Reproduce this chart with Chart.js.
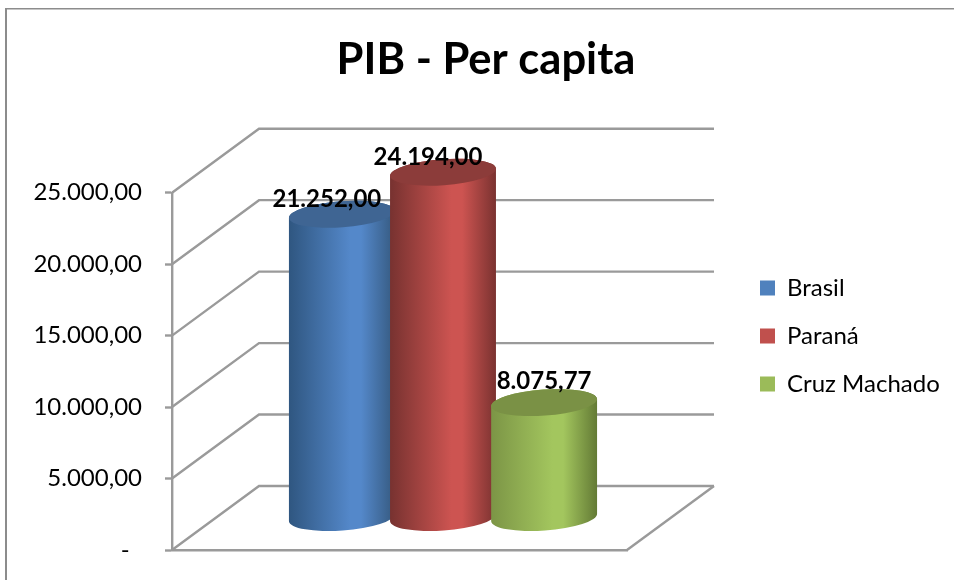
<!DOCTYPE html>
<html>
<head>
<meta charset="utf-8">
<style>
  html, body { margin: 0; padding: 0; background: #fff; overflow: hidden; }
</style>
<script src="https://cdn.jsdelivr.net/npm/chart.js@4/dist/chart.umd.js"></script>
</head>
<body>
<canvas id="pib_chart" width="954" height="580"></canvas>
<script>
const CATEGORIES = ['PIB - Per capita'];
const SERIES_NAMES = ['Brasil', 'Paraná', 'Cruz Machado'];
const SERIES_VALUES = [21252.00, 24194.00, 8075.77];
const Y_TICKS = [0, 5000, 10000, 15000, 20000, 25000];

// mid, edge and lid colours per cylinder
const BODY_COLORS = ['#5488CA', '#CD5451', '#A3C65E'];
const EDGE_LEFT = ['#2F5680', '#773230', '#7C9546'];
const EDGE_RIGHT = ['#35597F', '#7A3230', '#637A35'];
const LID_COLORS = ['#3F6593', '#8C3C3A', '#7A9145'];
const LEGEND_COLORS = ['#4F81BD', '#C0504D', '#9BBB59'];

const GRID_COLOR = '#9A9A9A';
const FONT = 'Lato, sans-serif';

// depth of the 3d box
const DEPTH_X = 87;
const DEPTH_Y = -64;
const TILT = -0.07;
const LID_RY = 13;

function fmt(v) {
    return v.toLocaleString('pt-BR', { minimumFractionDigits: 2, maximumFractionDigits: 2 });
}

function drawWalls(chart) {
    const { ctx, chartArea: area, scales: { y } } = chart;
    ctx.save();
    ctx.strokeStyle = GRID_COLOR;
    ctx.lineWidth = 2.4;
    Y_TICKS.forEach(t => {
        const py = y.getPixelForValue(t);
        ctx.beginPath();
        ctx.moveTo(area.left, py);
        ctx.lineTo(area.left + DEPTH_X, py + DEPTH_Y);
        ctx.lineTo(area.right + DEPTH_X, py + DEPTH_Y);
        ctx.stroke();
    });
    ctx.beginPath();
    ctx.moveTo(area.right, area.bottom);
    ctx.lineTo(area.right + DEPTH_X, area.bottom + DEPTH_Y);
    ctx.stroke();
    ctx.restore();
}

function drawCylinder(ctx, bar, i) {
    const cx = bar.x + DEPTH_X / 2;
    const top = bar.y + DEPTH_Y / 2;
    const base = bar.base + DEPTH_Y / 2;
    const rx = bar.width / 2 * 1.05;

    const grad = ctx.createLinearGradient(cx - rx, 0, cx + rx, 0);
    grad.addColorStop(0, EDGE_LEFT[i]);
    grad.addColorStop(0.58, BODY_COLORS[i]);
    grad.addColorStop(0.68, BODY_COLORS[i]);
    grad.addColorStop(1, EDGE_RIGHT[i]);

    ctx.beginPath();
    ctx.ellipse(cx, base, rx, LID_RY, TILT, 0, Math.PI);
    ctx.ellipse(cx, top, rx, LID_RY, TILT, Math.PI, Math.PI * 2);
    ctx.closePath();
    ctx.fillStyle = grad;
    ctx.fill();

    ctx.beginPath();
    ctx.ellipse(cx, top, rx, LID_RY, TILT, 0, Math.PI * 2);
    ctx.fillStyle = LID_COLORS[i];
    ctx.fill();
}

const box3d = {
    id: 'box3d',
    beforeDraw(chart) {
        const { ctx } = chart;
        ctx.save();
        ctx.fillStyle = '#8C8C8C';
        ctx.fillRect(5, 8, 2, 572);
        ctx.fillRect(5, 8, 949, 1.5);
        ctx.restore();
    },
    afterLayout(chart) {
        // title centres on the whole frame, legend sits right of the back wall
        chart.titleBlock.left = 18;
        chart.titleBlock.right = 954;
        const legend = chart.legend;
        const w = legend.width, h = legend.height;
        legend.left = 736;
        legend.right = 736 + w;
        legend.top = 252;
        legend.bottom = 252 + h;
    },
    beforeDatasetsDraw(chart) {
        const { ctx } = chart;
        drawWalls(chart);
        SERIES_NAMES.forEach((name, i) => {
            chart.getDatasetMeta(i).data.forEach(bar => drawCylinder(ctx, bar, i));
        });
        ctx.save();
        ctx.fillStyle = '#000';
        ctx.font = 'bold 24px ' + FONT;
        ctx.textAlign = 'center';
        ctx.textBaseline = 'middle';
        SERIES_NAMES.forEach((name, i) => {
            const big = i < 2;
            chart.getDatasetMeta(i).data.forEach(bar => {
                const lx = bar.x + DEPTH_X / 2 + (big ? -15 : 0);
                const ly = bar.y + DEPTH_Y / 2 + (big ? -15 : -21);
                ctx.fillText(fmt(SERIES_VALUES[i]), lx, ly);
            });
        });
        ctx.restore();
        return false;
    }
};

document.addEventListener('DOMContentLoaded', () => {
    const ctx = document.getElementById('pib_chart').getContext('2d');
    new Chart(ctx, {
        type: 'bar',
        data: {
            labels: CATEGORIES,
            datasets: SERIES_NAMES.map((name, i) => ({
                label: name,
                data: [SERIES_VALUES[i]],
                backgroundColor: LEGEND_COLORS[i],
                borderWidth: 0,
                categoryPercentage: 2 / 3,
                barPercentage: 1,
            })),
        },
        options: {
            responsive: false,
            animation: false,
            layout: { padding: { left: 18, right: 327, top: 0, bottom: 0 } },
            plugins: {
                tooltip: { enabled: false },
                title: {
                    display: true,
                    text: 'PIB - Per capita',
                    color: '#000',
                    font: { family: FONT, size: 43.5, weight: 'bold' },
                    padding: { top: 34, bottom: 106.5 },
                },
                legend: {
                    position: 'chartArea',
                    align: 'start',
                    labels: {
                        color: '#000',
                        font: { family: FONT, size: 24 },
                        boxWidth: 15,
                        boxHeight: 15,
                        padding: 24,
                    },
                },
            },
            scales: {
                x: {
                    grid: { display: false },
                    border: { color: GRID_COLOR, width: 2.4 },
                    ticks: { display: false },
                    afterFit(scale) { scale.height = 30; },
                },
                y: {
                    min: 0,
                    max: 25000,
                    afterBuildTicks(scale) { scale.ticks = Y_TICKS.map(value => ({ value })); },
                    afterFit(scale) {
                        scale.width = 154;
                        scale.paddingTop = 0;
                        scale.paddingBottom = 0;
                    },
                    grid: { drawOnChartArea: false, color: GRID_COLOR, tickLength: 7, tickWidth: 2.4 },
                    border: { color: GRID_COLOR, width: 2.4 },
                    ticks: {
                        color: '#000',
                        padding: 23,
                        font: { family: FONT, size: 24 },
                        callback: v => (v === 0 ? '-  ' : fmt(v)),
                    },
                },
            },
        },
        plugins: [box3d],
    });
});
</script>
</body>
</html>
